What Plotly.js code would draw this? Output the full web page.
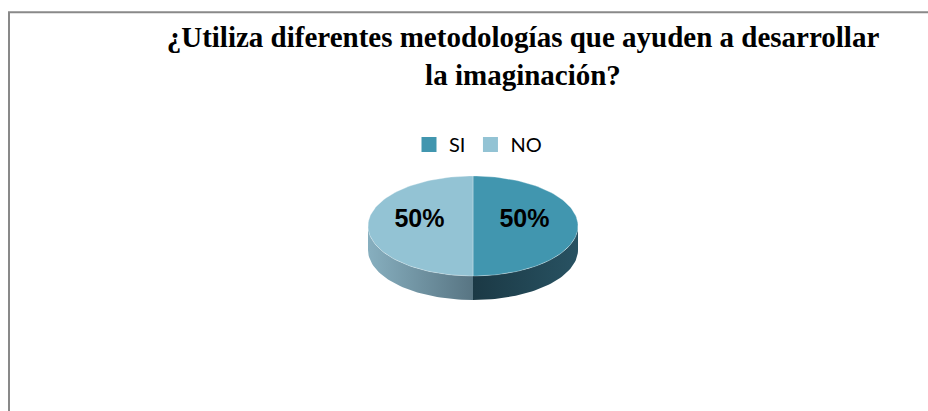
<!DOCTYPE html>
<html>
<head>
<meta charset="utf-8">
<script src="https://cdn.plot.ly/plotly-3.0.1.min.js"></script>
<style>
html,body{margin:0;padding:0;background:#fff;}
#chart{width:928px;height:411px;}
</style>
</head>
<body>
<div id="chart"></div>
<script>
// ---- data ----
const categories = ['SI', 'NO'];
const values = [50, 50];
const sliceLabels = ['50%', '50%'];
const titleText = '¿Utiliza diferentes metodologías que ayuden a desarrollar<br>la imaginación?';

// ---- styles ----
const topColors = ['#4196AF', '#93C3D4'];
const sideScales = [
  [[0, '#1B3945'], [1, '#285262']],
  [[0, '#87AFBF'], [1, '#587583']]
];
const cx = 473, cy = 226, rx = 105, ry = 50, depth = 24;

function pt(theta, dy) {
  return [cx + rx * Math.sin(theta), cy - ry * Math.cos(theta) + (dy || 0)];
}
function arc(a, b, dy) {
  const n = Math.max(8, Math.ceil(Math.abs(b - a) / (Math.PI / 90)));
  const xs = [], ys = [];
  for (let i = 0; i <= n; i++) {
    const t = a + (b - a) * i / n;
    const p = pt(t, dy);
    xs.push(p[0]); ys.push(p[1]);
  }
  return [xs, ys];
}

const total = values.reduce((s, v) => s + v, 0);
const sides = [], tops = [], labelX = [], labelY = [];
let cum = 0;
values.forEach((v, i) => {
  const a = cum / total * 2 * Math.PI;
  cum += v;
  const b = cum / total * 2 * Math.PI;
  const fa = Math.max(a, Math.PI / 2), fb = Math.min(b, 3 * Math.PI / 2);
  if (fb > fa) {
    const up = arc(fa, fb, 0), dn = arc(fa, fb, depth);
    sides.push({
      type: 'scatter', mode: 'lines',
      x: up[0].concat(dn[0].slice().reverse()),
      y: up[1].concat(dn[1].slice().reverse()),
      fill: 'toself',
      fillgradient: {type: 'horizontal', colorscale: sideScales[i]},
      line: {width: 0, color: 'rgba(0,0,0,0)'},
      hoverinfo: 'skip', showlegend: false
    });
  }
  const ar = arc(a, b, 0);
  tops.push({
    type: 'scatter', mode: 'lines',
    x: [cx].concat(ar[0]).concat([cx]),
    y: [cy].concat(ar[1]).concat([cy]),
    fill: 'toself', fillcolor: topColors[i],
    line: {width: 0.6, color: 'rgba(255,255,255,0.5)'},
    name: categories[i], hoverinfo: 'name', showlegend: false
  });
  const m = (a + b) / 2;
  const lp = [cx + 0.5 * rx * Math.sin(m) - 1, cy - 0.5 * ry * Math.cos(m) - 5];
  labelX.push(lp[0]); labelY.push(lp[1]);
});

const labelTrace = {
  type: 'scatter', mode: 'text', x: labelX, y: labelY, text: sliceLabels,
  textposition: 'middle center',
  textfont: {family: 'Liberation Sans, Arial, sans-serif', size: 25, color: '#000', weight: 'bold'},
  hoverinfo: 'skip', showlegend: false
};

const legendTraces = categories.map((c, i) => ({
  type: 'scatter', mode: 'markers', x: [null], y: [null], name: c,
  marker: {symbol: 'square', size: 15, color: topColors[i]},
  showlegend: true
}));

const data = sides.concat(tops).concat([labelTrace]).concat(legendTraces);

const layout = {
  width: 928, height: 411,
  margin: {l: 0, r: 0, t: 0, b: 0},
  paper_bgcolor: '#fff', plot_bgcolor: '#fff',
  xaxis: {range: [0, 928], visible: false, fixedrange: true},
  yaxis: {range: [411, 0], visible: false, fixedrange: true},
  title: {
    text: titleText,
    font: {family: 'Liberation Serif', size: 29, color: '#000', weight: 'bold'},
    x: 523 / 928, xanchor: 'center', xref: 'paper',
    y: 1 - 47 / 411, yanchor: 'top', yref: 'container'
  },
  showlegend: true,
  legend: {
    orientation: 'h', x: 478 / 928, xanchor: 'center', y: 1 - 125 / 411, yanchor: 'top',
    font: {family: 'Lato, Open Sans, sans-serif', size: 20, color: '#000'},
    itemwidth: 30, bgcolor: 'rgba(0,0,0,0)'
  },
  shapes: [{
    type: 'path', xref: 'paper', yref: 'paper',
    path: 'M ' + (9 / 928) + ' 0 L ' + (9 / 928) + ' ' + (1 - 12.3 / 411) + ' L 1 ' + (1 - 12.3 / 411),
    line: {color: '#898989', width: 2}
  }],
  hovermode: 'closest'
};

Plotly.newPlot('chart', data, layout, {displayModeBar: false});
</script>
</body>
</html>
